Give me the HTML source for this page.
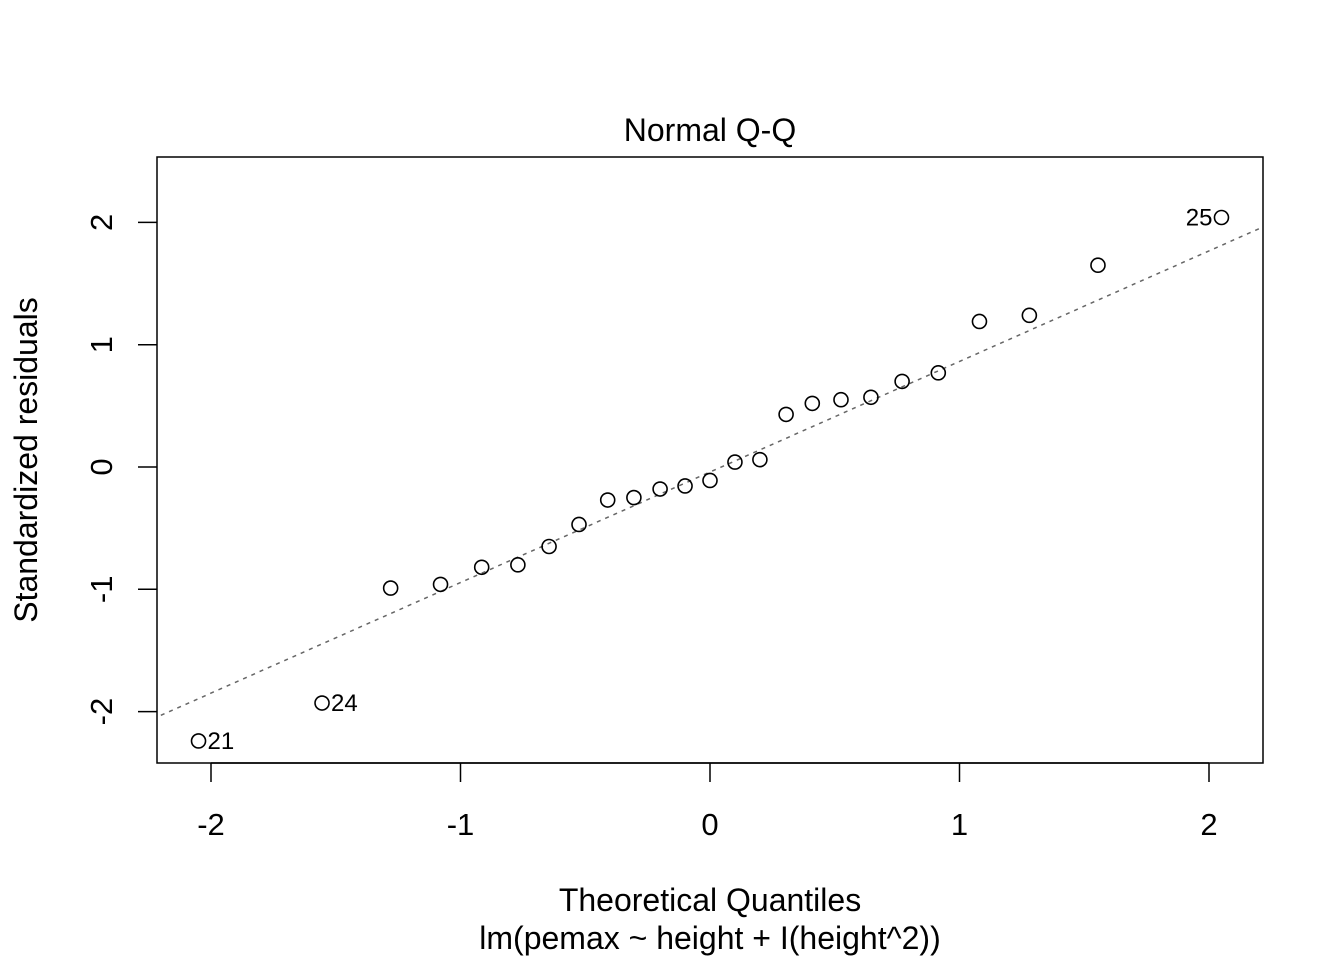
<!DOCTYPE html>
<html><head><meta charset="utf-8"><style>
html,body{margin:0;padding:0;background:#fff;}
svg{display:block;font-family:"Liberation Sans",Arial,sans-serif;}
</style></head><body>
<svg id="chart" width="1344" height="960" viewBox="0 0 1344 960" xmlns="http://www.w3.org/2000/svg">
<rect x="0" y="0" width="1344" height="960" fill="#fff"/>
<text x="710" y="141" font-size="32" text-anchor="middle">Normal Q-Q</text>
<g id="axes"></g>
<clipPath id="clip"><rect x="157" y="157" width="1106" height="606"/></clipPath>
<g id="refline" clip-path="url(#clip)"></g>
<g id="points"></g>
<rect x="157" y="157" width="1106" height="606" fill="none" stroke="#000" stroke-width="1.5"/>
<text x="710" y="911" font-size="32" text-anchor="middle">Theoretical Quantiles</text>
<text x="710" y="949" font-size="32" text-anchor="middle">lm(pemax ~ height + I(height^2))</text>
<text transform="translate(37,460) rotate(-90)" font-size="32" text-anchor="middle">Standardized residuals</text>
</svg>
<script>
const theoretical = [-2.05,-1.555,-1.28,-1.08,-0.915,-0.77,-0.645,-0.525,-0.41,-0.305,-0.2,-0.1,0,0.1,0.2,0.305,0.41,0.525,0.645,0.77,0.915,1.08,1.28,1.555,2.05];
const residuals = [-2.24,-1.93,-0.99,-0.96,-0.82,-0.80,-0.65,-0.47,-0.27,-0.25,-0.18,-0.155,-0.11,0.04,0.06,0.43,0.52,0.55,0.57,0.70,0.77,1.19,1.24,1.65,2.04];
const pointLabels = ["21","24","","","","","","","","","","","","","","","","","","","","","","","25"];
const xTicks = [-2,-1,0,1,2];
const yTicks = [-2,-1,0,1,2];
const lineIntercept = -0.041;
const lineSlope = 0.904;

const NS="http://www.w3.org/2000/svg";
const sx = v => 710 + v*249.5;
const sy = v => 467 - v*122.3;
function mk(tag, attrs, parent){const e=document.createElementNS(NS,tag);for(const k in attrs)e.setAttribute(k,attrs[k]);parent.appendChild(e);return e;}
const axes=document.getElementById('axes');
xTicks.forEach(t=>{
  const l=mk('line',{x1:sx(t),x2:sx(t),y1:763,y2:782,stroke:'#000','stroke-width':1.5},axes);
  
  
  const tx=mk('text',{x:sx(t),y:835,'font-size':31,'text-anchor':'middle'},axes);
  tx.textContent=String(t);
  
  
});
mk('line',{x1:sx(-2),x2:sx(2),y1:763,y2:763,stroke:'#000','stroke-width':1.5},axes);
yTicks.forEach(t=>{
  const l=mk('line',{x1:138,x2:157,y1:sy(t),y2:sy(t),stroke:'#000','stroke-width':1.5},axes);
  
  
  const tx=mk('text',{transform:`translate(112,${sy(t)}) rotate(-90)`,'font-size':31,'text-anchor':'middle'},axes);
  tx.textContent=String(t);
  
  
});
const rl=document.getElementById('refline');
const ln=mk('line',{x1:sx(-2.3),y1:sy(lineIntercept+lineSlope*-2.3),x2:sx(2.3),y2:sy(lineIntercept+lineSlope*2.3),stroke:'#666','stroke-width':1.5,'stroke-dasharray':'4,5'},rl);


const pg=document.getElementById('points');
theoretical.forEach((q,i)=>{
  const c=mk('circle',{cx:sx(q),cy:sy(residuals[i]),r:7,fill:'none',stroke:'#000','stroke-width':1.6},pg);
  
  
  if(pointLabels[i]){
    const left = q>0;
    const t=mk('text',{x:sx(q)+(left?-9:9),y:sy(residuals[i])+8,'font-size':24,'text-anchor':left?'end':'start'},pg);
    t.textContent=pointLabels[i];
    
    
  }
});
</script>
</body></html>
